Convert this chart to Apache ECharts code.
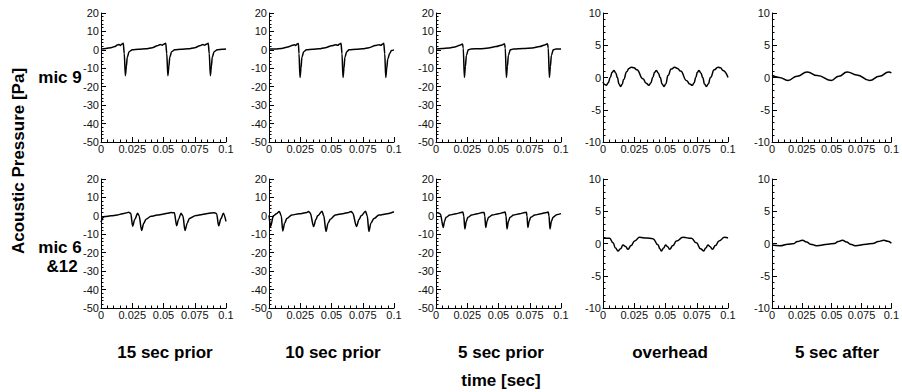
<!DOCTYPE html>
<html><head><meta charset="utf-8">
<script src="https://cdn.jsdelivr.net/npm/echarts@6/dist/echarts.min.js"></script>
<style>html,body{margin:0;padding:0;background:#fff}#c{width:902px;height:392px}</style>
</head><body><div id="c"></div>
<script>
// ---------- data ----------
const columnLabels = ['15 sec prior', '10 sec prior', '5 sec prior', 'overhead', '5 sec after'];
const rowLabels = ['mic 9', 'mic 6\n&12'];
const yAxisLabel = 'Acoustic Pressure [Pa]';
const xAxisLabel = 'time [sec]';
const xTickValues = [0, 0.025, 0.05, 0.075, 0.1];
const yTicksPriorPanels = [-50, -40, -30, -20, -10, 0, 10, 20];
const yTicksOverheadPanels = [-10, -5, 0, 5, 10];

// mic 9
const mic9_15sPrior = [[0,0.5],[0.004,0.8],[0.008,1.2],[0.011,1.8],[0.013,2.6],[0.0145,2.9],[0.0155,2.4],[0.0165,3.0],[0.0178,3.6],[0.0186,-2],[0.0195,-14],[0.0203,-9],[0.021,-4],[0.0225,-1],[0.025,0],[0.03,0.3],[0.036,0.6],[0.041,1.2],[0.045,2.2],[0.0475,2.9],[0.049,2.5],[0.050,3.0],[0.0518,3.6],[0.0526,-2],[0.0535,-14],[0.0543,-9],[0.055,-4],[0.0565,-1],[0.059,0],[0.064,0.3],[0.07,0.6],[0.075,1.2],[0.079,2.2],[0.0815,2.9],[0.083,2.5],[0.084,3.0],[0.0858,3.6],[0.0866,-2],[0.0875,-14],[0.0883,-9],[0.089,-4],[0.0905,-1],[0.093,0],[0.097,0.3],[0.1,0.5]];
const mic9_10sPrior = [[0,0.4],[0.005,0.5],[0.01,0.8],[0.015,1.5],[0.019,2.5],[0.0205,2.8],[0.0215,2.4],[0.0225,3.2],[0.0235,3.5],[0.024,-2],[0.0248,-15],[0.0256,-10],[0.0263,-4],[0.0278,-1],[0.030,0],[0.035,0.3],[0.04,0.6],[0.045,1.2],[0.05,2.2],[0.0535,2.8],[0.055,2.5],[0.0565,3.2],[0.0576,3.6],[0.0584,-2],[0.0592,-15],[0.06,-10],[0.0607,-4],[0.0622,-1],[0.064,0],[0.07,0.3],[0.075,0.6],[0.08,1.2],[0.085,2.3],[0.088,2.8],[0.0895,2.5],[0.091,3.2],[0.0918,3.6],[0.0926,-2],[0.0934,-15],[0.0942,-10],[0.095,-5],[0.0965,-2],[0.098,-0.3],[0.1,0]];
const mic9_5sPrior = [[0,0.5],[0.005,0.7],[0.01,1.0],[0.015,1.6],[0.019,2.5],[0.0212,3.2],[0.0218,1],[0.0227,-15],[0.0235,-9],[0.0243,-3],[0.0258,0],[0.028,0.5],[0.035,0.6],[0.042,1.0],[0.048,1.8],[0.053,2.7],[0.0548,3.3],[0.0554,1],[0.0563,-15],[0.0571,-9],[0.0579,-3],[0.0594,0],[0.062,0.5],[0.07,0.7],[0.077,1.0],[0.083,1.8],[0.087,2.7],[0.0892,3.3],[0.0898,1],[0.0907,-15],[0.0915,-9],[0.0923,-3],[0.0938,0],[0.096,0.5],[0.1,0.5]];
const mic9_overhead = [[0,-0.7],[0.0014,-1.1],[0.0027,-1.2],[0.0042,-0.8],[0.0058,0],[0.0073,0.8],[0.0088,1.1],[0.0102,0.7],[0.0115,0],[0.0128,-1.0],[0.0141,-1.4],[0.0153,-1.1],[0.0165,-0.3],[0.019,0.9],[0.0208,1.4],[0.0227,1.6],[0.0248,1.5],[0.027,1.2],[0.032,-0.2],[0.0345,-0.9],[0.0368,-1.2],[0.0383,-0.8],[0.0398,0],[0.0413,0.8],[0.0427,1.1],[0.0442,0.7],[0.0458,0],[0.0473,-1.0],[0.0488,-1.4],[0.0502,-1.0],[0.052,0.3],[0.0545,1.3],[0.0573,1.6],[0.0597,1.4],[0.062,1.0],[0.067,-0.5],[0.0693,-1.0],[0.0715,-1.2],[0.0729,-0.8],[0.0742,0],[0.0755,0.8],[0.0768,1.1],[0.0783,0.7],[0.0798,0],[0.0812,-1.0],[0.0827,-1.4],[0.0842,-1.0],[0.086,0],[0.089,1.2],[0.092,1.6],[0.094,1.5],[0.096,1.1],[0.1,0]];
const mic9_5sAfter = [[0,0.35],[0.006,0.0],[0.0134,-0.45],[0.021,0.2],[0.0295,0.85],[0.038,0.3],[0.0496,-0.45],[0.056,0.2],[0.063,0.85],[0.071,0.4],[0.0818,-0.45],[0.09,0.2],[0.0979,0.85],[0.1,0.7]];

// mic 6 & 12
const mic612_15sPrior = [[0,-3.5],[0.0015,-1],[0.003,-0.3],[0.008,0],[0.013,0.5],[0.017,1.1],[0.02,1.6],[0.0221,1.9],[0.0238,1.4],[0.0253,-5.6],[0.027,-2],[0.0293,1.4],[0.0305,0],[0.0325,-8],[0.0342,-4],[0.036,-1.8],[0.04,-0.2],[0.045,0.4],[0.0493,0.9],[0.053,1.4],[0.056,1.8],[0.0587,1.7],[0.0605,-5.4],[0.062,-2],[0.064,1.4],[0.0655,0],[0.0672,-8],[0.069,-4],[0.0707,-1.4],[0.076,0.2],[0.081,0.8],[0.0853,1.3],[0.0907,1.7],[0.0925,1.2],[0.0941,-5.4],[0.096,-1.5],[0.0979,1.4],[0.1,-3]];
const mic612_10sPrior = [[0,0.3],[0.0013,-5.8],[0.0035,0],[0.006,1.2],[0.0083,2.4],[0.0098,0],[0.011,-8.2],[0.0125,-4],[0.0142,-1.5],[0.0182,0.5],[0.024,1.1],[0.0303,1.8],[0.0316,2.4],[0.033,1.5],[0.0357,-5.8],[0.0375,-2],[0.0389,0],[0.0424,2.5],[0.0438,0],[0.0456,-8.4],[0.0472,-4],[0.0491,-1.8],[0.0531,0.5],[0.059,1.2],[0.0638,1.8],[0.0657,2.4],[0.067,1.5],[0.07,-5.8],[0.072,-2],[0.0737,0],[0.0772,2.5],[0.0786,0],[0.0799,-8.4],[0.0815,-4],[0.0839,-1.5],[0.0879,0.4],[0.0946,1.1],[0.1,2.2]];
const mic612_5sPrior = [[0,1.8],[0.002,1.6],[0.0035,1],[0.0058,-6.3],[0.0068,-3],[0.008,-0.8],[0.011,0.4],[0.016,1.2],[0.02,1.8],[0.0215,2.1],[0.0222,0],[0.0231,-7.1],[0.0242,-3],[0.0255,-0.8],[0.0285,0.4],[0.033,1.2],[0.037,1.8],[0.0385,1.8],[0.039,0],[0.0398,-6.3],[0.0408,-3],[0.042,-0.8],[0.045,0.4],[0.05,1.2],[0.054,1.8],[0.0553,2.1],[0.056,0],[0.0568,-7.1],[0.0579,-3],[0.0592,-0.8],[0.062,0.4],[0.067,1.2],[0.071,1.8],[0.0723,1.9],[0.0728,0],[0.0735,-6.3],[0.0745,-3],[0.0757,-0.8],[0.079,0.4],[0.084,1.2],[0.0885,1.8],[0.0898,2.1],[0.0904,0],[0.0912,-7.1],[0.0923,-3],[0.0936,-0.8],[0.0965,0.6],[0.1,1.2]];
const mic612_overhead = [[0,0.8],[0.0053,0.8],[0.008,0.1],[0.010,-0.7],[0.012,-1.15],[0.014,-0.8],[0.016,-0.25],[0.018,-0.45],[0.02,-0.9],[0.0225,-0.3],[0.0253,0.4],[0.0293,0.95],[0.0347,0.85],[0.04,0.75],[0.044,-0.2],[0.0455,-0.8],[0.0467,-1.15],[0.0485,-0.7],[0.0501,-0.25],[0.0517,-0.5],[0.0533,-0.9],[0.056,-0.3],[0.0587,0.4],[0.064,0.95],[0.0707,0.8],[0.0747,0.1],[0.078,-0.8],[0.0805,-1.15],[0.0822,-0.7],[0.084,-0.25],[0.0857,-0.5],[0.0875,-0.9],[0.09,-0.3],[0.0928,0.4],[0.0973,0.95],[0.1,0.85]];
const mic612_5sAfter = [[0,-0.25],[0.0067,-0.35],[0.0134,-0.1],[0.0174,-0.05],[0.0215,0.3],[0.0255,0.5],[0.029,0.25],[0.0322,-0.1],[0.0375,-0.35],[0.0469,-0.1],[0.0523,0.0],[0.0555,0.3],[0.059,0.5],[0.0625,0.25],[0.0657,-0.1],[0.0697,-0.35],[0.0791,-0.1],[0.0845,0.0],[0.089,0.3],[0.0938,0.5],[0.097,0.35],[0.1,0.05]];

const panelData = [
  [mic9_15sPrior, mic9_10sPrior, mic9_5sPrior, mic9_overhead, mic9_5sAfter],
  [mic612_15sPrior, mic612_10sPrior, mic612_5sPrior, mic612_overhead, mic612_5sAfter]
];
const panelYTicks = [yTicksPriorPanels, yTicksPriorPanels, yTicksPriorPanels, yTicksOverheadPanels, yTicksOverheadPanels];

// ---------- layout / style ----------
const FONT = "'Liberation Sans', Arial, Helvetica, sans-serif";
const colLeft = [101, 269, 436, 603, 772];
const rowTop = [13, 179];
const panelW = 125, panelH = 129;
const colSmooth = [0.3, 0.3, 0.3, 0.5, 0.5];

const grids = [], xAxes = [], yAxes = [], series = [];
const axisCommon = {
  axisLine: { show: true, onZero: false, lineStyle: { color: '#000', width: 1 } },
  axisTick: { show: true, inside: true, length: 5, lineStyle: { color: '#000', width: 1 } },
  minorTick: { show: true, splitNumber: 5, length: 2.5, lineStyle: { color: '#000', width: 1 } },
  splitLine: { show: false },
  minorSplitLine: { show: false }
};
let idx = 0;
for (let r = 0; r < 2; r++) {
  for (let c = 0; c < 5; c++) {
    grids.push({ left: colLeft[c], top: rowTop[r], width: panelW, height: panelH });
    xAxes.push(Object.assign({}, axisCommon, {
      type: 'value', gridIndex: idx,
      min: xTickValues[0], max: xTickValues[xTickValues.length - 1],
      interval: xTickValues[1] - xTickValues[0],
      axisLabel: { color: '#111', fontSize: 11, fontFamily: FONT, margin: 1, showMinLabel: true, showMaxLabel: true, hideOverlap: false }
    }));
    const yt = panelYTicks[c];
    yAxes.push(Object.assign({}, axisCommon, {
      type: 'value', gridIndex: idx,
      min: yt[0], max: yt[yt.length - 1], interval: yt[1] - yt[0],
      axisLabel: { color: '#111', fontSize: 11, fontFamily: FONT, margin: 2, showMinLabel: true, showMaxLabel: true, hideOverlap: false }
    }));
    series.push({
      type: 'line', xAxisIndex: idx, yAxisIndex: idx,
      data: panelData[r][c], showSymbol: false, symbol: 'none',
      smooth: colSmooth[c], smoothMonotone: 'x',
      lineStyle: { color: '#000', width: 1.5 },
      silent: true, animation: false
    });
    idx++;
  }
}

const boldText = (text, x, y, extra) => Object.assign({
  type: 'text', x: x, y: y,
  style: { text: text, fill: '#000', font: "bold 17px " + FONT, textAlign: 'center', textVerticalAlign: 'middle' }
}, extra || {});

const colCenters = [165, 333, 501, 670, 837];
const graphics = [];
columnLabels.forEach((t, i) => graphics.push(boldText(t, colCenters[i], 352)));
graphics.push(boldText(xAxisLabel, 501, 380));
graphics.push(boldText(yAxisLabel, 18, 161, { rotation: Math.PI / 2 }));
graphics.push(boldText(rowLabels[0], 60, 77));
const row2Lines = rowLabels[1].split('\n');
graphics.push(boldText(row2Lines[0], 60, 247));
graphics.push(boldText(row2Lines[1], 62, 266));

const chart = echarts.init(document.getElementById('c'), null, { renderer: 'svg' });
chart.setOption({
  backgroundColor: '#fff',
  animation: false,
  grid: grids, xAxis: xAxes, yAxis: yAxes, series: series,
  graphic: graphics
});
</script></body></html>
